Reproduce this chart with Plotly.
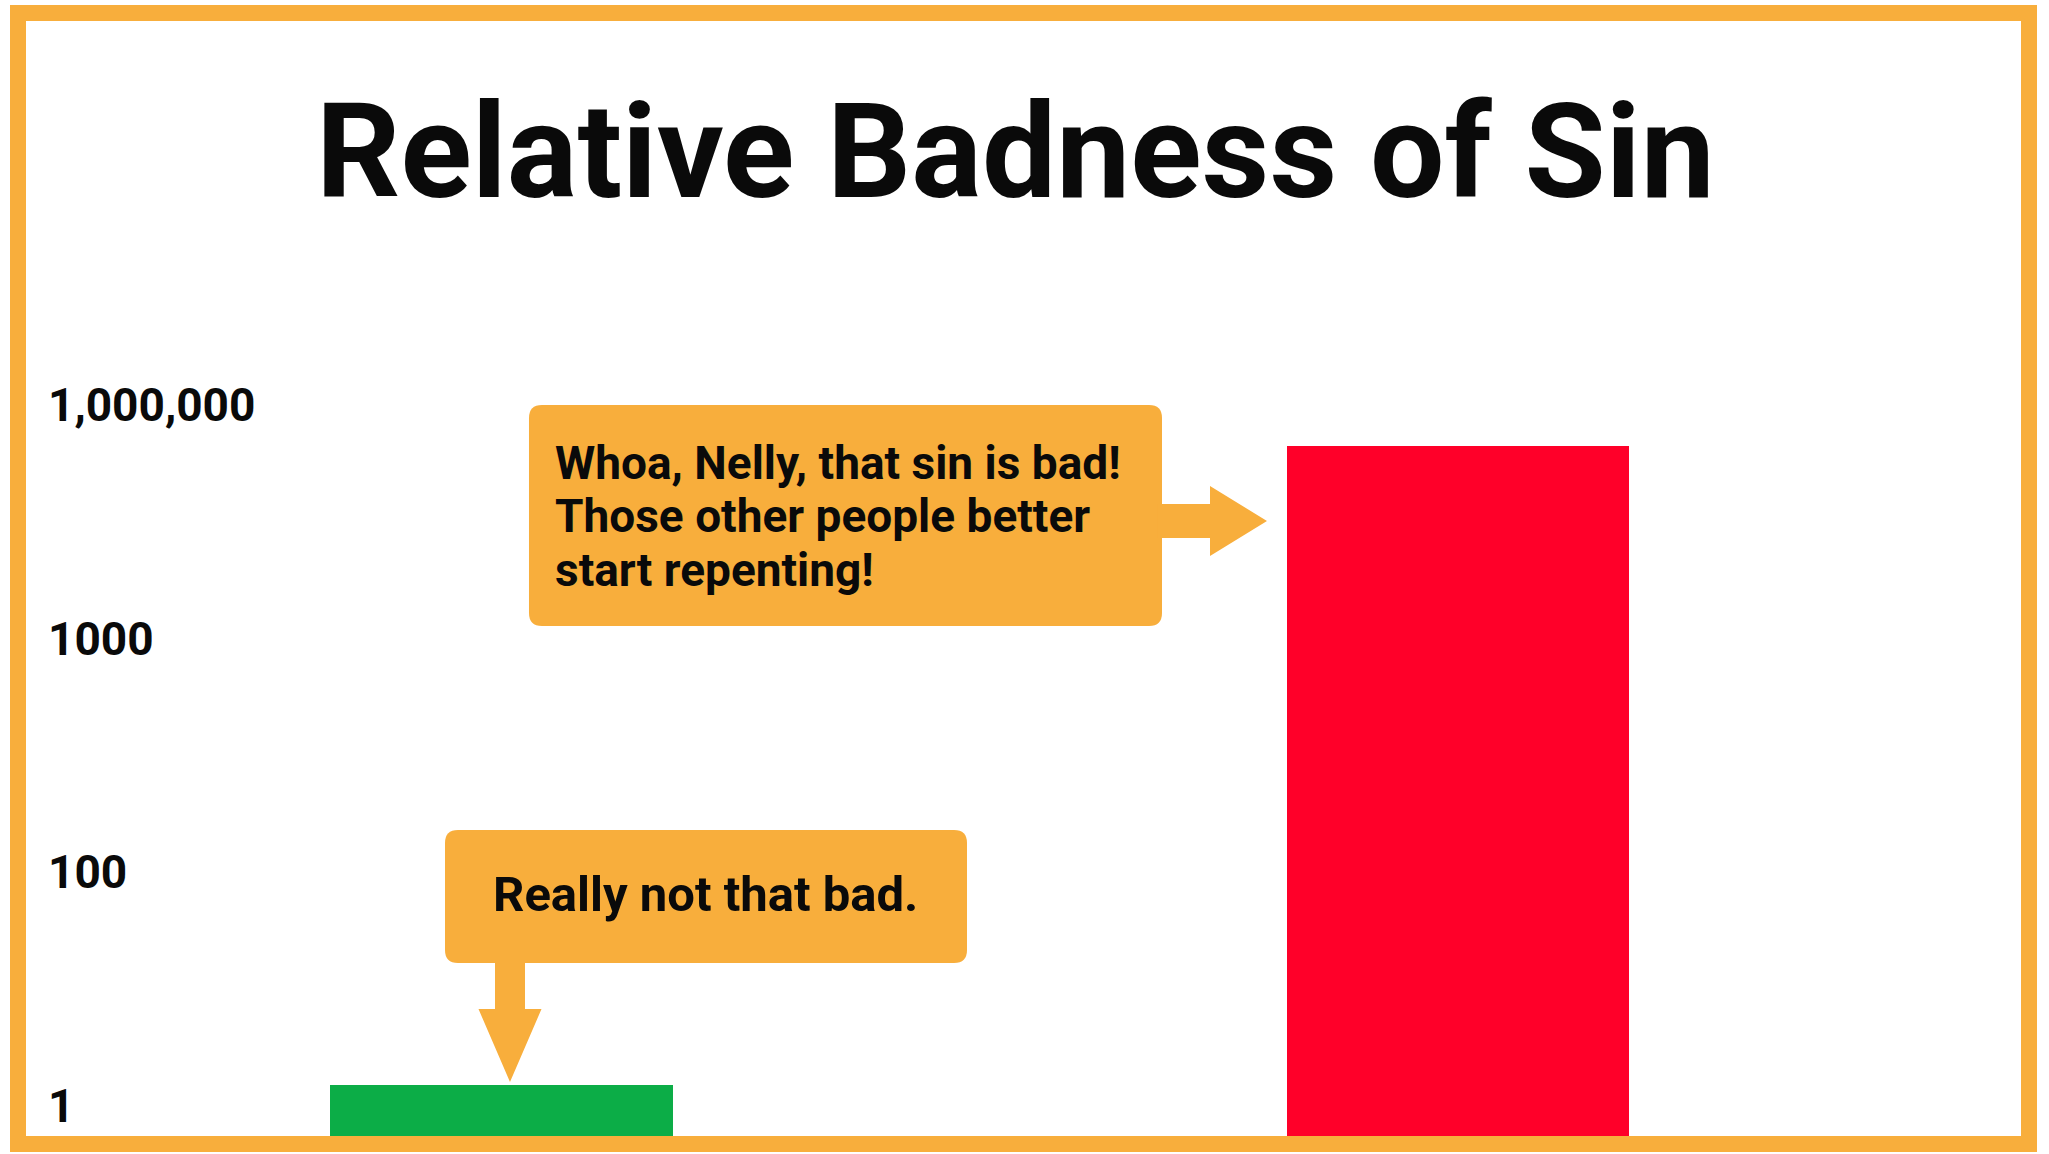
import numpy as np
import plotly.graph_objects as go

# ---------------- data ----------------
categories = ["My sin", "Their sin"]
badness = [1.5, 300000]
bar_colors = ["#0CAD47", "#FF0029"]
tick_values = [1, 100, 1000, 1000000]
tick_labels = ["1", "100", "1000", "1,000,000"]

title_text = "Relative Badness of Sin"
callout_top_lines = ["Whoa, Nelly, that sin is bad!",
                     "Those other people better",
                     "start repenting!"]
callout_bottom_text = "Really not that bad."

# ---------------- styling / geometry ----------------
W, H = 2049, 1154
ORANGE = "#F8AE3C"
TEXT = "#0A0A0A"
FONT = "Roboto"

# plot area in pixels
L, R, T, B = 26, 2022, 290, 1137
LEVEL0_PX, PX_PER_RUNG = 1105.9, 233.6      # vertical "rung" scale of the reference
CAT0_PX, CAT_STEP_PX = 501.5, 956.5

# The reference's y axis is a "rung" scale: each labelled value is one
# equally spaced rung above the previous one (log interpolation between).
tick_logs = np.log10(tick_values)


def rung(v):
    return float(np.interp(np.log10(v), tick_logs, np.arange(len(tick_values))))


y_min = (LEVEL0_PX - B) / PX_PER_RUNG
y_max = (LEVEL0_PX - T) / PX_PER_RUNG
x_min = (L - CAT0_PX) / CAT_STEP_PX
x_max = 1 + (R - (CAT0_PX + CAT_STEP_PX)) / CAT_STEP_PX


def px(x):
    return (x - L) / (R - L)


def py(y):
    return (B - y) / (B - T)


def path(points, close=True):
    s = ""
    for cmd, pts in points:
        coords = " ".join(f"{px(a):.5f},{py(b):.5f}" for a, b in pts)
        s += f"{cmd} {coords} "
    if close:
        s += "Z"
    return s


def rounded_rect(x0, y0, x1, y1, r):
    return path([
        ("M", [(x0 + r, y0)]),
        ("L", [(x1 - r, y0)]),
        ("Q", [(x1, y0), (x1, y0 + r)]),
        ("L", [(x1, y1 - r)]),
        ("Q", [(x1, y1), (x1 - r, y1)]),
        ("L", [(x0 + r, y1)]),
        ("Q", [(x0, y1), (x0, y1 - r)]),
        ("L", [(x0, y0 + r)]),
        ("Q", [(x0, y0), (x0 + r, y0)]),
    ])


def arrow_right(x0, xh, xt, yc, shaft_half, head_half):
    return path([
        ("M", [(x0, yc - shaft_half)]),
        ("L", [(xh, yc - shaft_half)]),
        ("L", [(xh, yc - head_half)]),
        ("L", [(xt, yc)]),
        ("L", [(xh, yc + head_half)]),
        ("L", [(xh, yc + shaft_half)]),
        ("L", [(x0, yc + shaft_half)]),
    ])


def arrow_down(y0, yh, yt, xc, shaft_half, head_half):
    return path([
        ("M", [(xc - shaft_half, y0)]),
        ("L", [(xc - shaft_half, yh)]),
        ("L", [(xc - head_half, yh)]),
        ("L", [(xc, yt)]),
        ("L", [(xc + head_half, yh)]),
        ("L", [(xc + shaft_half, yh)]),
        ("L", [(xc + shaft_half, y0)]),
    ])


fig = go.Figure()
fig.add_trace(go.Bar(
    x=categories,
    y=[rung(v) - y_min for v in badness],
    base=y_min,
    width=0.358,
    marker=dict(color=bar_colors, line=dict(width=0)),
    hoverinfo="skip",
))

shapes = []
# callout boxes + arrows
shapes.append(dict(type="path", xref="paper", yref="paper", layer="above",
                   path=rounded_rect(529, 405, 1162, 626, 13),
                   fillcolor=ORANGE, line=dict(width=0)))
shapes.append(dict(type="path", xref="paper", yref="paper", layer="above",
                   path=arrow_right(1158, 1210, 1267, 521, 17, 35),
                   fillcolor=ORANGE, line=dict(width=0)))
shapes.append(dict(type="path", xref="paper", yref="paper", layer="above",
                   path=rounded_rect(445, 830, 967, 963, 13),
                   fillcolor=ORANGE, line=dict(width=0)))
shapes.append(dict(type="path", xref="paper", yref="paper", layer="above",
                   path=arrow_down(960, 1009, 1082, 510, 15, 31.5),
                   fillcolor=ORANGE, line=dict(width=0)))
# outer frame
shapes.append(dict(type="rect", xref="paper", yref="paper", layer="above",
                   x0=px(18), x1=px(2029), y0=py(1144), y1=py(13),
                   line=dict(color=ORANGE, width=16), fillcolor="rgba(0,0,0,0)"))

annotations = []
annotations.append(dict(
    text=title_text, xref="paper", yref="paper", x=px(1015), y=py(152.5),
    xanchor="center", yanchor="middle", showarrow=False, borderpad=0, borderwidth=0,
    font=dict(family=FONT, size=132, color=TEXT, weight="bold")))
for i, line in enumerate(callout_top_lines):
    annotations.append(dict(
        text=line, xref="paper", yref="paper", x=px(555), y=py(462.5 + 53.5 * i),
        xanchor="left", yanchor="middle", showarrow=False, borderpad=0, borderwidth=0,
        font=dict(family=FONT, size=46, color=TEXT, weight="bold")))
annotations.append(dict(
    text=callout_bottom_text, xref="paper", yref="paper", x=px(705), y=py(894),
    xanchor="center", yanchor="middle", showarrow=False, borderpad=0, borderwidth=0,
    font=dict(family=FONT, size=49, color=TEXT, weight="bold")))

fig.update_layout(
    width=W, height=H,
    margin=dict(l=L, r=W - R, t=T, b=H - B, pad=0),
    paper_bgcolor="white", plot_bgcolor="white",
    showlegend=False,
    bargap=0,
    xaxis=dict(range=[x_min, x_max], showticklabels=False, showgrid=False,
               zeroline=False, showline=False, ticks=""),
    yaxis=dict(range=[y_min, y_max],
               tickvals=[rung(v) for v in tick_values], ticktext=tick_labels,
               ticklabelposition="inside", ticks="", ticklabelstandoff=19,
               showgrid=False, zeroline=False, showline=False,
               tickfont=dict(family=FONT, size=46, color=TEXT, weight="bold")),
    shapes=shapes,
    annotations=annotations,
)

fig.write_html("out.html",
               config={"displayModeBar": False},
               post_script="document.body.style.margin='0';document.body.style.overflow='hidden';")
